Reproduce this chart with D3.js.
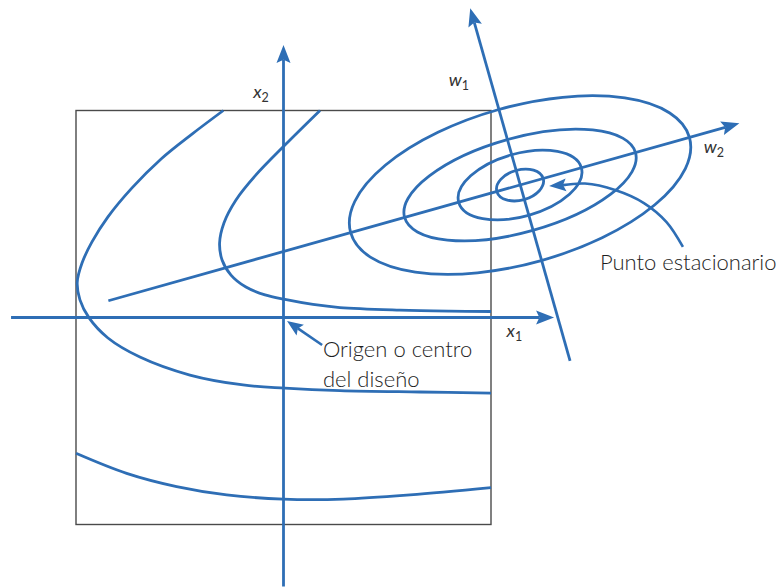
<!DOCTYPE html>
<html lang="es">
<head>
<meta charset="UTF-8">
<title>Superficie de respuesta</title>
<script src="https://cdnjs.cloudflare.com/ajax/libs/d3/7.8.5/d3.min.js"></script>
<style>
  body { margin: 0; background: #fff; }
  text { font-family: Lato, "Open Sans", sans-serif; fill: #333; }
</style>
</head>
<body>
<div id="chart"></div>
<script>
    // coded units: the design region is the square [-1, 1] x [-1, 1]
    var stationary = [1.14, 0.64];
    var contourA = [0.116, 0.307, 0.578, 0.848];   // semi-axis along w2
    var contourB = [0.073, 0.152, 0.228, 0.379];   // semi-axis along w1
    var contourAngle = 15.7;

    var curveInner = [[0.176, 1.0], [0.007, 0.833], [-0.137, 0.684], [-0.229, 0.568], [-0.287, 0.457],
        [-0.308, 0.360], [-0.296, 0.278], [-0.253, 0.205], [-0.181, 0.147], [-0.089, 0.109],
        [0.007, 0.087], [0.142, 0.063], [0.272, 0.048], [0.561, 0.036], [0.802, 0.031], [1.0, 0.029]];
    var curveOuter = [[-0.290, 1.0], [-0.441, 0.886], [-0.590, 0.766], [-0.730, 0.626], [-0.846, 0.486],
        [-0.923, 0.365], [-0.971, 0.263], [-0.994, 0.171], [-0.981, 0.085], [-0.937, -0.002],
        [-0.846, -0.099], [-0.692, -0.191], [-0.451, -0.278], [-0.195, -0.326], [0.007, -0.341],
        [0.272, -0.353], [0.658, -0.360], [1.0, -0.365]];
    var curveBottom = [[-1.0, -0.656], [-0.756, -0.753], [-0.515, -0.817], [-0.274, -0.857], [-0.001, -0.877],
        [0.288, -0.877], [0.610, -0.857], [1.0, -0.822]];

    var axisX1 = [[-1.313, 0], [1.304, 0]];
    var axisX2 = [[0, -1.30], [0, 1.316]];
    var axisW1 = [[1.381, -0.210], [0.900, 1.494]];
    var axisW2 = [[-0.844, 0.081], [2.197, 0.938]];

    var arrowOrigin = [[0.186, -0.133], [0.017, -0.017]];
    var arrowStationary = [[1.925, 0.341], [1.846, 0.461], [1.737, 0.553], [1.598, 0.616], [1.453, 0.647], [1.280, 0.635]];

    var axisNames = [["x", "2"], ["w", "1"], ["w", "2"], ["x", "1"]];
    var noteOrigin = ["Origen o centro", "del diseño"];
    var noteStationary = "Punto estacionario";

    var blue = "#2e6eb5";
    var width = 782, height = 588;

    var svg = d3.select("#chart")
        .append("svg")
        .attr("width", width)
        .attr("height", height);

    var x = d3.scaleLinear().domain([-1, 1]).range([76, 491]);
    var y = d3.scaleLinear().domain([-1, 1]).range([524.5, 110.5]);

    var smooth = d3.line()
        .x(function(d) { return x(d[0]); })
        .y(function(d) { return y(d[1]); })
        .curve(d3.curveCatmullRom.alpha(0.5));

    // design region
    svg.append("rect")
        .attr("x", x(-1))
        .attr("y", y(1))
        .attr("width", x(1) - x(-1))
        .attr("height", y(-1) - y(1))
        .attr("fill", "none")
        .attr("stroke", "#4a4a4a")
        .attr("stroke-width", 1.4);

    // open contours
    svg.selectAll("path.contour")
        .data([curveInner, curveOuter, curveBottom])
        .enter()
        .append("path")
        .attr("class", "contour")
        .attr("d", smooth)
        .attr("fill", "none")
        .attr("stroke", blue)
        .attr("stroke-width", 2.8);

    // closed contours round the stationary point
    var cx = x(stationary[0]), cy = y(stationary[1]);
    svg.selectAll("ellipse")
        .data(contourA)
        .enter()
        .append("ellipse")
        .attr("cx", cx)
        .attr("cy", cy)
        .attr("rx", function(d) { return x(d) - x(0); })
        .attr("ry", function(d, i) { return y(0) - y(contourB[i]); })
        .attr("transform", "rotate(" + (-contourAngle) + "," + cx + "," + cy + ")")
        .attr("fill", "none")
        .attr("stroke", blue)
        .attr("stroke-width", 2.8);

    // arrow head at the last point of a pixel polyline, returns the point where the shaft should stop
    function head(tip, from, len, hw) {
        var dx = tip[0] - from[0], dy = tip[1] - from[1];
        var d = Math.sqrt(dx * dx + dy * dy);
        var ux = dx / d, uy = dy / d;
        var bx = tip[0] - ux * len, by = tip[1] - uy * len;
        var nx = tip[0] - ux * len * 0.82, ny = tip[1] - uy * len * 0.82;
        svg.append("polygon")
            .attr("points", [
                [tip[0], tip[1]],
                [bx - uy * hw, by + ux * hw],
                [nx, ny],
                [bx + uy * hw, by - ux * hw]
            ].join(" "))
            .attr("fill", blue);
        return [nx, ny];
    }

    function arrow(pts, curved, len, hw, sw) {
        var px = pts.map(function(d) { return [x(d[0]), y(d[1])]; });
        var n = px.length;
        var g = svg.append("path");
        var stop = head(px[n - 1], px[n - 2], len, hw);
        var shaft = px.slice(0, n - 1).concat([stop]);
        var gen = d3.line();
        if (curved) gen.curve(d3.curveCatmullRom.alpha(0.5));
        g.attr("d", gen(shaft))
            .attr("fill", "none")
            .attr("stroke", blue)
            .attr("stroke-width", sw);
    }

    arrow(axisX1, false, 18, 7, 2.8);
    arrow(axisX2, false, 18, 7, 2.8);
    arrow(axisW1, false, 18, 7, 2.8);
    arrow(axisW2, false, 18, 7, 2.8);
    arrow(arrowOrigin, false, 16, 6.5, 2.6);
    arrow(arrowStationary, true, 17, 6.5, 2.6);

    // axis names
    var namePos = [[-0.146, 1.060], [0.796, 1.118], [2.025, 0.795], [1.075, -0.094]];
    axisNames.forEach(function(d, i) {
        var t = svg.append("text")
            .attr("x", x(namePos[i][0]))
            .attr("y", y(namePos[i][1]));
        t.append("tspan")
            .text(d[0])
            .style("font-style", "italic")
            .style("font-size", "18px");
        t.append("tspan")
            .text(d[1])
            .attr("dy", 4)
            .style("font-size", "12.5px");
    });

    // notes
    svg.selectAll("text.note")
        .data(noteOrigin)
        .enter()
        .append("text")
        .attr("class", "note")
        .attr("x", x(0.190))
        .attr("y", function(d, i) { return y(-0.191) + i * 30; })
        .style("font-size", "22px")
        .style("font-weight", 300)
        .style("fill", "#1e1e1e")
        .text(function(d) { return d; });

    svg.append("text")
        .attr("x", x(1.525))
        .attr("y", y(0.229))
        .style("font-size", "22px")
        .style("font-weight", 300)
        .style("fill", "#1e1e1e")
        .text(noteStationary);
</script>
</body>
</html>
